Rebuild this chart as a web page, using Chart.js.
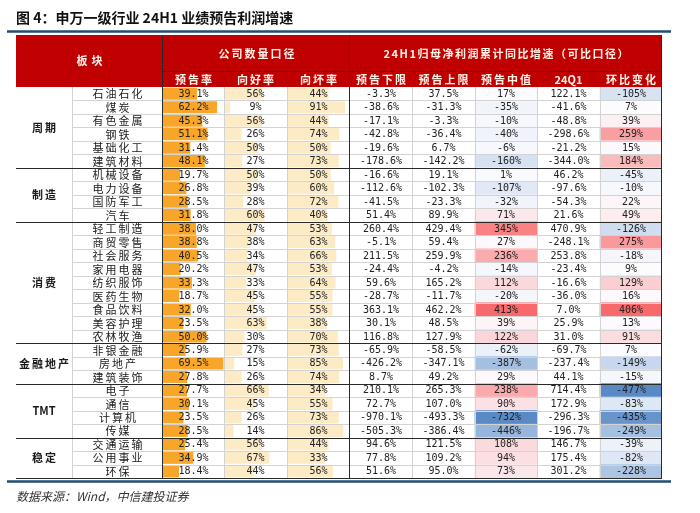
<!DOCTYPE html>
<html><head><meta charset="utf-8">
<script src="https://cdn.jsdelivr.net/npm/chart.js@4"></script>
<style>html,body{margin:0;padding:0;background:#fff}canvas{display:block}</style>
</head><body>
<canvas id="c" width="700" height="513"></canvas>
<script>
const titleText = '图 4：申万一级行业 24H1 业绩预告利润增速';
const sourceText = '数据来源：Wind，中信建投证券';
const groups = ['周期','制造','消费','金融地产','TMT','稳定'];
const groupSizes = [6,4,9,3,4,3];
const industries = ['石油石化','煤炭','有色金属','钢铁','基础化工','建筑材料','机械设备','电力设备','国防军工','汽车','轻工制造','商贸零售','社会服务','家用电器','纺织服饰','医药生物','食品饮料','美容护理','农林牧渔','非银金融','房地产','建筑装饰','电子','通信','计算机','传媒','交通运输','公用事业','环保'];
const forecastRate = [39.1,62.2,45.3,51.1,31.4,48.1,19.7,26.8,28.5,31.8,38.0,38.8,40.5,20.2,33.3,18.7,32.0,23.5,50.0,25.9,69.5,27.8,27.7,30.1,23.5,28.5,25.4,34.9,18.4];
const goodRate = [56,9,56,26,50,27,50,39,28,60,47,38,34,47,33,45,45,63,30,27,15,26,66,45,26,14,56,67,44];
const badRate = [44,91,44,74,50,73,50,60,72,40,53,63,66,53,64,55,55,38,70,73,85,74,34,55,73,86,44,33,56];
const lowerBound = [-3.3,-38.6,-17.1,-42.8,-19.6,-178.6,-16.6,-112.6,-41.5,51.4,260.4,-5.1,211.5,-24.4,59.6,-28.7,363.1,30.1,116.8,-65.9,-426.2,8.7,210.1,72.7,-970.1,-505.3,94.6,77.8,51.6];
const upperBound = [37.5,-31.3,-3.3,-36.4,6.7,-142.2,19.1,-102.3,-23.3,89.9,429.4,59.4,259.9,-4.2,165.2,-11.7,462.2,48.5,127.9,-58.5,-347.1,49.2,265.3,107.0,-493.3,-386.4,121.5,109.2,95.0];
const midValue = [17,-35,-10,-40,-6,-160,1,-107,-32,71,345,27,236,-14,112,-20,413,39,122,-62,-387,29,238,90,-732,-446,108,94,73];
const q1Value = [122.1,-41.6,-48.8,-298.6,-21.2,-344.0,46.2,-97.6,-54.3,21.6,470.9,-248.1,253.8,-23.4,-16.6,-36.0,7.0,25.9,31.0,-69.7,-237.4,44.1,714.4,172.9,-296.3,-196.7,146.7,175.4,301.2];
const qoqChange = [-105,7,39,259,15,184,-45,-10,22,49,-126,275,-18,9,129,16,406,13,91,7,-149,-15,-477,-83,-435,-249,-39,-82,-228];
const headBlock = '板块';
const headGroupA = '公司数量口径';
const headGroupB = '24H1归母净利润累计同比增速（可比口径）';
const subHeads = ['预告率','向好率','向坏率','预告下限','预告上限','预告中值','24Q1','环比变化'];

// layout (table units, left edge of table = 0)
const colEdges = [0,56,147,208,271,334,396,459,521,584,646];

function heatColors(arr){
  const s=[...arr].sort((a,b)=>a-b);
  const med=s[Math.floor(s.length/2)], mn=s[0], mx=s[s.length-1];
  const white=[252,252,255], red=[248,105,107], blue=[90,138,198];
  return arr.map(v=>{
    let c,t;
    if(v>=med){c=red;t=(v-med)/(mx-med);} else {c=blue;t=(med-v)/(med-mn);}
    const r=white.map((w,k)=>Math.round(w+(c[k]-w)*t));
    return `rgb(${r[0]},${r[1]},${r[2]})`;
  });
}
function cellSpan(ci){ return industries.map(()=>[colEdges[ci],colEdges[ci+1]]); }
function dataBars(vals,ci,lo,hi){
  const a=colEdges[ci], w=colEdges[ci+1]-colEdges[ci];
  return vals.map(v=>[a, a+(v-lo)/(hi-lo)*w]);
}
const frMax = Math.max(...forecastRate);
const common = {grouped:false,categoryPercentage:1,borderWidth:0,borderSkipped:false};
const datasets = [
  {...common,label:'预告中值',data:cellSpan(7),backgroundColor:heatColors(midValue),barPercentage:1},
  {...common,label:'环比变化',data:cellSpan(9),backgroundColor:heatColors(qoqChange),barPercentage:1},
  {...common,label:'预告率',data:dataBars(forecastRate,2,0,frMax*1.01),backgroundColor:'#f8a62a',barPercentage:0.9},
  {...common,label:'向好率',data:dataBars(goodRate,3,0,93),backgroundColor:'#fdebc6',barPercentage:0.9},
  {...common,label:'向坏率',data:dataBars(badRate,4,-75,105),backgroundColor:'#fdebc6',barPercentage:0.9}
];

function spacedText(ctx,txt,x,y,sp){
  ctx.letterSpacing = sp+'px';
  ctx.fillText(txt,x+sp/2,y);
  ctx.letterSpacing = '0px';
}

const tablePlugin = {
  id:'tablePlugin',
  afterDatasetsDraw(chart){
    const {ctx, chartArea:a, scales:{x,y}} = chart;
    const X = v=>x.getPixelForValue(v);
    const n = industries.length;
    const band = (a.bottom-a.top)/n;
    const rowTop = i=>a.top+i*band;
    ctx.save();
    // light grid
    ctx.strokeStyle='#d3d3d3'; ctx.lineWidth=1;
    for(let i=1;i<n;i++){
      const yy=Math.round(rowTop(i))+0.5;
      ctx.beginPath(); ctx.moveTo(X(colEdges[1]),yy); ctx.lineTo(X(colEdges[10]),yy); ctx.stroke();
    }
    [1,3,4,6,7,8,9].forEach(ci=>{
      const xx=Math.round(X(colEdges[ci]))+0.5;
      ctx.beginPath(); ctx.moveTo(xx,a.top); ctx.lineTo(xx,a.bottom); ctx.stroke();
    });
    // header
    const hTop=a.top-52, hMid=a.top-16;
    ctx.fillStyle='#c00000';
    ctx.fillRect(X(0),hTop,X(646)-X(0),a.top-hTop);
    ctx.strokeStyle='#7a0000'; ctx.lineWidth=1;
    ctx.beginPath(); ctx.moveTo(X(colEdges[2]),Math.round(hMid)+0.5); ctx.lineTo(X(646),Math.round(hMid)+0.5); ctx.stroke();
    // dark lines
    ctx.strokeStyle='#2a2a2a'; ctx.lineWidth=1;
    [2,5,10].forEach(ci=>{
      const xx=Math.round(X(colEdges[ci]))-0.5;
      ctx.beginPath(); ctx.moveTo(xx,hTop); ctx.lineTo(xx,a.bottom); ctx.stroke();
    });
    let acc=0;
    groupSizes.forEach((g,gi)=>{
      acc+=g;
      const yy=Math.round(rowTop(acc))+0.5;
      ctx.beginPath(); ctx.moveTo(X(0),yy); ctx.lineTo(X(646),yy); ctx.stroke();
    });
    // header text
    ctx.textAlign='center'; ctx.textBaseline='middle';
    ctx.fillStyle='#fff3e8';
    ctx.font='bold 11px "Noto Sans CJK SC"';
    spacedText(ctx,headBlock,(X(0)+X(colEdges[2]))/2,hTop+26,4);
    spacedText(ctx,headGroupA,(X(colEdges[2])+X(colEdges[5]))/2,hTop+19,2);
    spacedText(ctx,headGroupB,(X(colEdges[5])+X(colEdges[10]))/2,hTop+19,1.5);
    subHeads.forEach((s,k)=>{
      spacedText(ctx,s,(X(colEdges[k+2])+X(colEdges[k+3]))/2,(hMid+a.top)/2+0.5,s==='24Q1'?0:2);
    });
    // group labels
    ctx.fillStyle='#1a1a1a';
    acc=0;
    groups.forEach((g,gi)=>{
      const yc=(rowTop(acc)+rowTop(acc+groupSizes[gi]))/2;
      ctx.font='bold 11px "Noto Sans CJK SC"';
      spacedText(ctx,g,(X(0)+X(colEdges[1]))/2,yc,g==='TMT'?0:2);
      acc+=groupSizes[gi];
    });
    // row texts
    const cx = ci=>(X(colEdges[ci])+X(colEdges[ci+1]))/2;
    const f1=v=>v.toFixed(1)+'%', f0=v=>Math.round(v)+'%';
    for(let i=0;i<n;i++){
      const yc=y.getPixelForValue(i)+0.5;
      ctx.fillStyle='#1a1a1a';
      ctx.font='11px "Noto Sans CJK SC"';
      spacedText(ctx,industries[i],cx(1),yc,2);
      ctx.fillStyle='#222';
      ctx.font='10px "DejaVu Sans Mono"';
      ctx.fillText(f1(forecastRate[i]),cx(2),yc);
      ctx.fillText(f0(goodRate[i]),cx(3),yc);
      ctx.fillText(f0(badRate[i]),cx(4),yc);
      ctx.fillText(f1(lowerBound[i]),cx(5),yc);
      ctx.fillText(f1(upperBound[i]),cx(6),yc);
      ctx.fillText(f0(midValue[i]),cx(7),yc);
      ctx.fillText(f1(q1Value[i]),cx(8),yc);
      ctx.fillText(f0(qoqChange[i]),cx(9),yc);
    }
    // title, rules, source
    ctx.textAlign='left';
    ctx.fillStyle='#111';
    ctx.font='bold 14px "Noto Sans CJK SC"';
    ctx.fillText(titleText,X(0),18);
    ctx.strokeStyle='#1f4e79'; ctx.lineWidth=2.5;
    ctx.beginPath(); ctx.moveTo(7,31.5); ctx.lineTo(671,31.5); ctx.stroke();
    ctx.beginPath(); ctx.moveTo(7,a.bottom+3.5); ctx.lineTo(671,a.bottom+3.5); ctx.stroke();
    ctx.fillStyle='#333';
    ctx.font='italic 12px "Noto Sans CJK SC"';
    ctx.fillText(sourceText,X(0),a.bottom+18);
    ctx.restore();
  }
};

new Chart(document.getElementById('c'),{
  type:'bar',
  data:{labels:industries,datasets},
  options:{
    indexAxis:'y',responsive:false,animation:false,devicePixelRatio:1,events:[],
    layout:{padding:{left:16,right:38,top:87,bottom:35}},
    scales:{
      x:{type:'linear',min:0,max:646,display:false},
      y:{type:'category',display:false,offset:true}
    },
    plugins:{legend:{display:false},tooltip:{enabled:false}}
  },
  plugins:[tablePlugin]
});
</script>
</body></html>
